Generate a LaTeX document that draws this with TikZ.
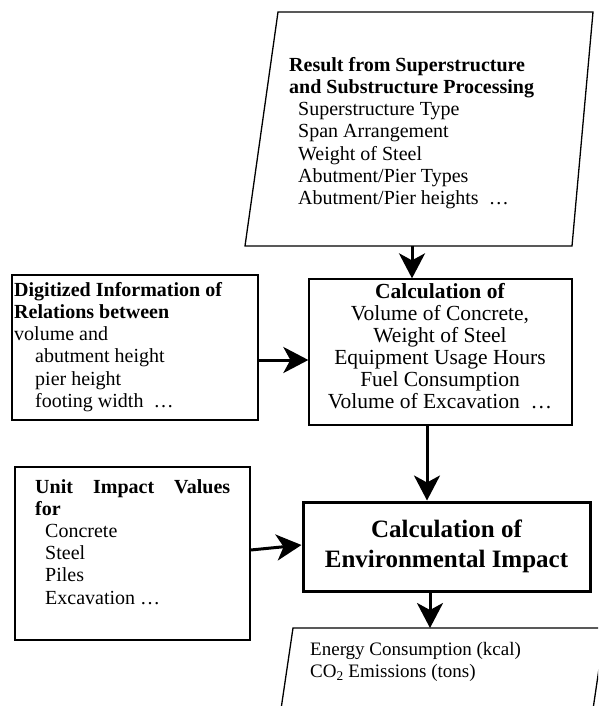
\documentclass[tikz,border=0pt]{standalone}
\usepackage{fontspec}
\setmainfont{Liberation Serif}
\usetikzlibrary{arrows.meta}
\begin{document}
\begin{tikzpicture}[x=1pt,y=-1pt,
  boxline/.style={line width=1.3pt},
  flowarrow/.style={line width=3pt,-{Stealth[length=25pt,width=26pt,inset=7pt]}},
  txt/.style={inner sep=0pt,font=\fontsize{20}{22.2}\selectfont},
  calcfont/.style={inner sep=0pt,font=\fontsize{21.5}{22}\selectfont},
  outfont/.style={inner sep=0pt,font=\fontsize{19}{22.2}\selectfont},
  bigtxt/.style={inner sep=0pt,font=\fontsize{25}{30}\selectfont\bfseries,align=center}]
\useasboundingbox (0,0) rectangle (598,706);

% top parallelogram
\coordinate (tpA) at (278,12);
\coordinate (tpB) at (593,12);
\coordinate (tpC) at (572,246);
\coordinate (tpD) at (245,246);
\draw[boxline] (tpA) -- (tpB) -- (tpC) -- (tpD) -- cycle;
\coordinate (tpOut) at (412,246);
\node[txt,anchor=north west,align=left] (restxt) at (289,57)
 {\textbf{Result from Superstructure}\\
  \textbf{and Substructure Processing}\\
  \hspace*{9pt}Superstructure Type\\
  \hspace*{9pt}Span Arrangement\\
  \hspace*{9pt}Weight of Steel\\
  \hspace*{9pt}Abutment/Pier Types\\
  \hspace*{9pt}Abutment/Pier heights \ \dots};

% calculation box
\node[boxline,draw,minimum width=263pt,minimum height=146pt,inner sep=0pt] (calc) at (440.5,352) {};
\node[calcfont,anchor=north,align=center] (calctxt) at (440,283)
 {\textbf{Calculation of}\\
  Volume of Concrete,\\
  Weight of Steel\\
  Equipment Usage Hours\\
  Fuel Consumption\\
  Volume of Excavation \ \dots};

% digitized box
\node[boxline,draw,minimum width=246pt,minimum height=145pt,inner sep=0pt] (digi) at (135,347.5) {};
\node[txt,anchor=north west,align=left] (digitxt) at (14,282)
 {\textbf{Digitized Information of}\\
  \textbf{Relations between}\\
  volume and\\
  \hspace*{21pt}abutment height\\
  \hspace*{21pt}pier height\\
  \hspace*{21pt}footing width \ \dots};

% unit impact box
\node[boxline,draw,minimum width=235pt,minimum height=173pt,inner sep=0pt] (unit) at (132.5,553.5) {};
\node[txt,anchor=north west,align=left] (unittxt) at (35,479)
 {\makebox[195pt][s]{\textbf{Unit Impact Values}}\\
  \textbf{for}\\
  \hspace*{10pt}Concrete\\
  \hspace*{10pt}Steel\\
  \hspace*{10pt}Piles\\
  \hspace*{10pt}Excavation \dots};

% environmental impact box
\node[draw,line width=3pt,minimum width=287pt,minimum height=89pt,inner sep=0pt] (env) at (446.5,546.5) {};
\node[bigtxt] (envtxt) at (446.5,546) {Calculation of\\Environmental Impact};

% bottom parallelogram (cut off by the page)
\coordinate (bpA) at (293,628);
\coordinate (bpB) at (605,628);
\coordinate (bpC) at (592,716);
\coordinate (bpD) at (280,716);
\begin{scope}
\clip (0,0) rectangle (598,706);
\draw[boxline] (bpD) -- (bpA) -- (bpB) -- (bpC);
\end{scope}
\node[outfont,anchor=north west,align=left] (outtxt) at (310,642)
 {Energy Consumption (kcal)\\
  CO\textsubscript{2} Emissions (tons)};
\coordinate (bpIn) at (430,628);

% connectors
\draw[flowarrow] (tpOut) -- (tpOut |- calc.north);
\draw[flowarrow] (digi.east |- 0,360) -- (calc.west |- 0,360);
\draw[flowarrow] (calc.south -| 427,0) -- (env.north -| 427,0);
\draw[flowarrow] (unit.east |- 0,550) -- (env.west |- 0,545);
\draw[flowarrow] (env.south -| bpIn) -- (bpIn);
\end{tikzpicture}
\end{document}
